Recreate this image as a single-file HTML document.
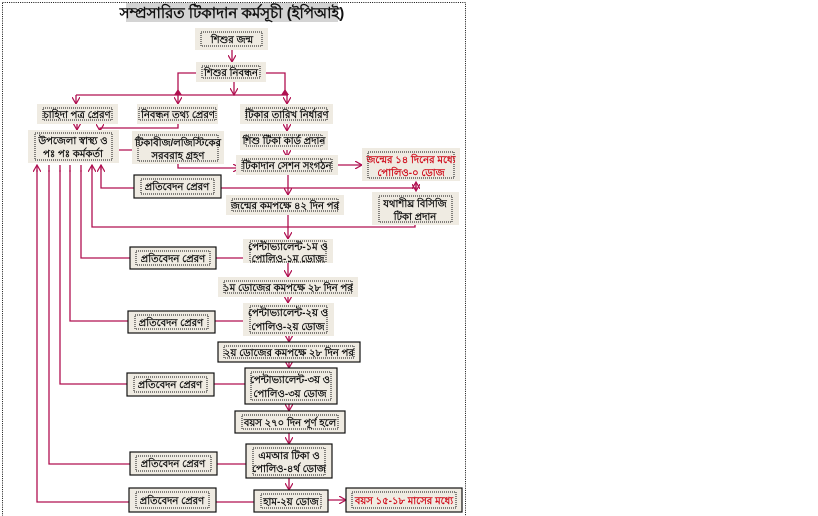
<!DOCTYPE html>
<html><head><meta charset="utf-8"><style>
html,body{margin:0;padding:0;background:#fff;width:818px;height:516px;overflow:hidden}
svg{display:block}
text{font-family:"Liberation Sans","Noto Sans CJK SC",sans-serif;font-weight:bold;font-size:10px;fill:#111;text-anchor:middle}
.r{fill:#d0101e}
.bg{fill:#efebe2}
.dot{fill:none;stroke:#111;stroke-width:1;stroke-dasharray:1 1}
.sol{fill:none;stroke:#111;stroke-width:1.2}
.ln{fill:none;stroke:#b01050;stroke-width:1.3}
</style></head><body>
<svg width="818" height="516" viewBox="0 0 818 516" xmlns="http://www.w3.org/2000/svg">
<defs>
<marker id="a" markerWidth="8" markerHeight="8" refX="7" refY="4" orient="auto" markerUnits="userSpaceOnUse">
<path d="M0,0 L7,4 L0,8" fill="none" stroke="#b01050" stroke-width="1.2"/></marker>
</defs>
<rect x="2.5" y="2.5" width="463" height="520" fill="none" stroke="#111" stroke-dasharray="1 1.2"/>
<rect x="126" y="3" width="212" height="19" fill="#d4d4d4"/>
<text x="232" y="18" style="font-size:15px">সম্প্রসারিত টিকাদান কর্মসূচী (ইপিআই)</text>

<!-- connectors -->
<g class="ln">
<path d="M232,50 V62" marker-end="url(#a)"/>
<path d="M196,73 H178 V95 M266,73 H285 V95 M76,95 H288"/>
<path d="M234,82 V95" marker-end="url(#a)"/>
<path d="M76,95 V104" marker-end="url(#a)"/>
<path d="M178,95 V104" marker-end="url(#a)"/>
<path d="M287,95 V104" marker-end="url(#a)"/>
<path d="M77,124 V130" marker-end="url(#a)"/>
<path d="M178,124 V128 H100 V131" marker-end="url(#a)"/>
<path d="M119,150 H139" marker-end="url(#a)"/>
<path d="M178,164 V168 H240" marker-end="url(#a)"/>
<path d="M287,124 V131" marker-end="url(#a)"/>
<path d="M287,150 V157" marker-end="url(#a)"/>
<path d="M338,165 H362" marker-end="url(#a)"/>
<path d="M288,175 V195" marker-end="url(#a)"/>
<path d="M416,183 V191" marker-end="url(#a)"/>
<path d="M416,190 V182" marker-end="url(#a)"/>
<path d="M221,188 H416 M134,188 H101 V165" />
<path d="M101,170 V165" marker-end="url(#a)"/>
<path d="M415,225 V227 H92 V165" />
<path d="M92,170 V165" marker-end="url(#a)"/>
<path d="M288,215 V239" marker-end="url(#a)"/>
<path d="M288,263 V277" marker-end="url(#a)"/>
<path d="M288,297 V303" marker-end="url(#a)"/>
<path d="M289,336 V342" marker-end="url(#a)"/>
<path d="M289,362 V368" marker-end="url(#a)"/>
<path d="M289,404 V411" marker-end="url(#a)"/>
<path d="M289,433 V444" marker-end="url(#a)"/>
<path d="M289,478 V490" marker-end="url(#a)"/>
<path d="M328,500 H346" marker-end="url(#a)"/>
<path d="M250,258 H81 V170 M243,321 H70 V170 M245,384 H60 V170 M246,464 H49 V170 M254,502 H37 V170"/>
<path d="M81,172 V165 M70,172 V165 M60,172 V165 M49,172 V165 M37,172 V165" marker-end="url(#a)"/>
</g>
<path d="M174,95 L178,89 L182,95Z M281,95 L285,89 L289,95Z" fill="#b01050"/>

<!-- boxes -->
<g>
<rect class="bg" x="195" y="28" width="73" height="22"/><rect class="dot" x="201" y="32" width="61" height="14"/><text x="232" y="43">শিশুর জন্ম</text>
<rect class="bg" x="196" y="62" width="70" height="20"/><rect class="dot" x="202" y="66" width="58" height="12"/><text x="231" y="76">শিশুর নিবন্ধন</text>
<rect class="bg" x="37" y="104" width="81" height="20"/><rect class="dot" x="43" y="108" width="69" height="12"/><text x="77" y="118">চাহিদা পত্র প্রেরণ</text>
<rect class="bg" x="137" y="104" width="81" height="20"/><rect class="dot" x="139" y="108" width="77" height="12"/><text x="178" y="118">নিবন্ধন তথ্য প্রেরণ</text>
<rect class="bg" x="240" y="104" width="93" height="20"/><rect class="dot" x="246" y="108" width="81" height="12"/><text x="287" y="118">টিকার তারিখ নির্ধারণ</text>
<rect class="bg" x="28" y="130" width="91" height="33"/><rect class="dot" x="35" y="133" width="77" height="27"/><text x="73" y="144">উপজেলা স্বাস্থ্য ও</text><text x="73" y="157">পঃ পঃ কর্মকর্তা</text>
<rect class="bg" x="132" y="131" width="92" height="33"/><rect class="dot" x="138" y="135" width="80" height="26"/><text x="178" y="146">টিকাবীজ/লজিস্টিকের</text><text x="178" y="159">সরবরাহ গ্রহণ</text>
<rect class="bg" x="240" y="131" width="88" height="19"/><rect class="dot" x="246" y="135" width="76" height="11"/><text x="284" y="144">শিশু টিকা কার্ড প্রদান</text>
<rect class="bg" x="236" y="155" width="102" height="20"/><rect class="dot" x="242" y="159" width="90" height="12"/><text x="287" y="169">টিকাদান সেশন সংগঠন</text>
<rect class="bg" x="362" y="148" width="98" height="33"/><rect class="dot" x="368" y="152" width="86" height="26"/><text class="r" x="411" y="163">জন্মের ১৪ দিনের মধ্যে</text><text class="r" x="411" y="176">পোলিও-০ ডোজ</text>
<rect class="bg" x="134" y="175" width="87" height="23"/><rect class="sol" x="134" y="175" width="87" height="23"/><rect class="dot" x="141" y="179" width="73" height="15"/><text x="177" y="190">প্রতিবেদন প্রেরণ</text>
<rect class="bg" x="226" y="195" width="118" height="20"/><rect class="dot" x="232" y="199" width="106" height="12"/><text x="285" y="209">জন্মের কমপক্ষে ৪২ দিন পর</text>
<rect class="bg" x="372" y="192" width="87" height="33"/><rect class="dot" x="379" y="196" width="73" height="26"/><text x="415" y="207">যথাশীঘ্র বিসিজি</text><text x="415" y="220">টিকা প্রদান</text>

<rect class="bg" x="130" y="247" width="86" height="22"/><rect class="sol" x="130" y="247" width="86" height="22"/><rect class="dot" x="136" y="251" width="74" height="14"/><text x="173" y="262">প্রতিবেদন প্রেরণ</text>
<rect class="bg" x="243" y="239" width="90" height="24"/><rect class="dot" x="250" y="241" width="76" height="21"/><text x="288" y="250">পেন্টাভ্যালেন্ট-১ম ও</text><text x="288" y="262">পোলিও-১ম ডোজ</text>
<rect class="bg" x="218" y="277" width="140" height="20"/><rect class="dot" x="224" y="281" width="128" height="12"/><text x="288" y="291">১ম ডোজের কমপক্ষে ২৮ দিন পর</text>

<rect class="bg" x="128" y="311" width="87" height="22"/><rect class="sol" x="128" y="311" width="87" height="22"/><rect class="dot" x="135" y="315" width="73" height="14"/><text x="171" y="326">প্রতিবেদন প্রেরণ</text>
<rect class="bg" x="243" y="303" width="91" height="33"/><rect class="dot" x="250" y="306" width="77" height="27"/><text x="288" y="316">পেন্টাভ্যালেন্ট-২য় ও</text><text x="288" y="330">পোলিও-২য় ডোজ</text>
<rect class="bg" x="218" y="342" width="142" height="20"/><rect class="sol" x="218" y="342" width="142" height="20"/><rect class="dot" x="224" y="346" width="130" height="12"/><text x="289" y="356">২য় ডোজের কমপক্ষে ২৮ দিন পর</text>

<rect class="bg" x="127" y="373" width="87" height="23"/><rect class="sol" x="127" y="373" width="87" height="23"/><rect class="dot" x="134" y="377" width="73" height="15"/><text x="170" y="388">প্রতিবেদন প্রেরণ</text>
<rect class="bg" x="245" y="368" width="92" height="36"/><rect class="sol" x="245" y="368" width="92" height="36"/><rect class="dot" x="251" y="372" width="80" height="28"/><text x="290" y="383">পেন্টাভ্যালেন্ট-৩য় ও</text><text x="290" y="397">পোলিও-৩য় ডোজ</text>
<rect class="bg" x="235" y="411" width="110" height="22"/><rect class="sol" x="235" y="411" width="110" height="22"/><rect class="dot" x="242" y="415" width="96" height="14"/><text x="290" y="426">বয়স ২৭০ দিন পূর্ণ হলে</text>

<rect class="bg" x="130" y="452" width="87" height="23"/><rect class="sol" x="130" y="452" width="87" height="23"/><rect class="dot" x="136" y="456" width="75" height="15"/><text x="173" y="467">প্রতিবেদন প্রেরণ</text>
<rect class="bg" x="246" y="444" width="86" height="34"/><rect class="sol" x="246" y="444" width="86" height="34"/><rect class="dot" x="253" y="448" width="72" height="27"/><text x="289" y="459">এমআর টিকা ও</text><text x="289" y="472">পোলিও-৪র্থ ডোজ</text>

<rect class="bg" x="129" y="488" width="87" height="24"/><rect class="sol" x="129" y="488" width="87" height="24"/><rect class="dot" x="136" y="492" width="73" height="16"/><text x="172" y="504">প্রতিবেদন প্রেরণ</text>
<rect class="bg" x="254" y="490" width="74" height="22"/><rect class="sol" x="254" y="490" width="74" height="22"/><rect class="dot" x="261" y="494" width="60" height="14"/><text x="291" y="505">হাম-২য় ডোজ</text>
<rect class="bg" x="346" y="488" width="116" height="24"/><rect class="sol" x="346" y="488" width="116" height="24"/><rect class="dot" x="352" y="492" width="104" height="16"/><text class="r" x="404" y="504">বয়স ১৫-১৮ মাসের মধ্যে</text>
</g>
</svg>
</body></html>
